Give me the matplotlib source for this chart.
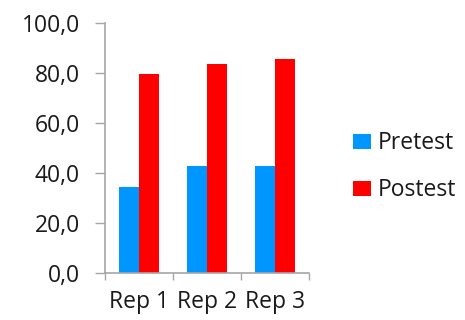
import matplotlib
matplotlib.use("Agg")
import matplotlib.pyplot as plt
import numpy as np

categories = ["Rep 1", "Rep 2", "Rep 3"]
pretest = [34.5, 42.8, 43.0]
postest = [79.6, 83.6, 85.5]
series_names = ["Pretest", "Postest"]
y_ticks = [0, 20, 40, 60, 80, 100]

blue = "#0096FF"
red = "#FF0000"
axis_grey = "#A6A6A6"
text_col = "#1A1A1A"
fs = 16.5

plt.rcParams["font.family"] = ["Open Sans", "DejaVu Sans"]

fig = plt.figure(figsize=(4.65, 3.2), dpi=100)
ax = fig.add_axes([105 / 465, 1 - 273 / 320, (309 - 105) / 465, 250 / 320])

x = np.arange(len(categories))
w = 0.29
ax.bar(x - w / 2, pretest, w, color=blue, label=series_names[0])
ax.bar(x + w / 2, postest, w, color=red, label=series_names[1])

ax.set_xlim(-0.5, len(categories) - 0.5)
ax.set_ylim(0, 100)
ax.set_yticks(y_ticks)
ax.set_yticklabels([f"{v:.1f}".replace(".", ",") for v in y_ticks],
                   fontsize=fs, color=text_col)

# category ticks sit on the boundaries between groups
ax.set_xticks(np.arange(len(categories) + 1) - 0.5)
ax.set_xticklabels([])
ax.set_xticks(x, minor=True)
ax.set_xticklabels(categories, minor=True, fontsize=fs, color=text_col)
ax.tick_params(axis="x", which="major", length=5, width=1, color=axis_grey,
               direction="out")
ax.tick_params(axis="x", which="minor", length=0, pad=12)
ax.tick_params(axis="y", length=7, width=1, color=axis_grey, direction="out",
               pad=11)

for side in ["top", "right"]:
    ax.spines[side].set_visible(False)
for side in ["left", "bottom"]:
    ax.spines[side].set_color(axis_grey)
    ax.spines[side].set_linewidth(1.2)

fig.legend(loc="upper left", bbox_to_anchor=(342 / 465, 1 - 120 / 320),
           frameon=False, fontsize=fs, borderpad=0, handlelength=0.78,
           handleheight=0.6, handletextpad=0.3, labelspacing=1.0,
           labelcolor=text_col)

fig.savefig("out.png", dpi=100)
